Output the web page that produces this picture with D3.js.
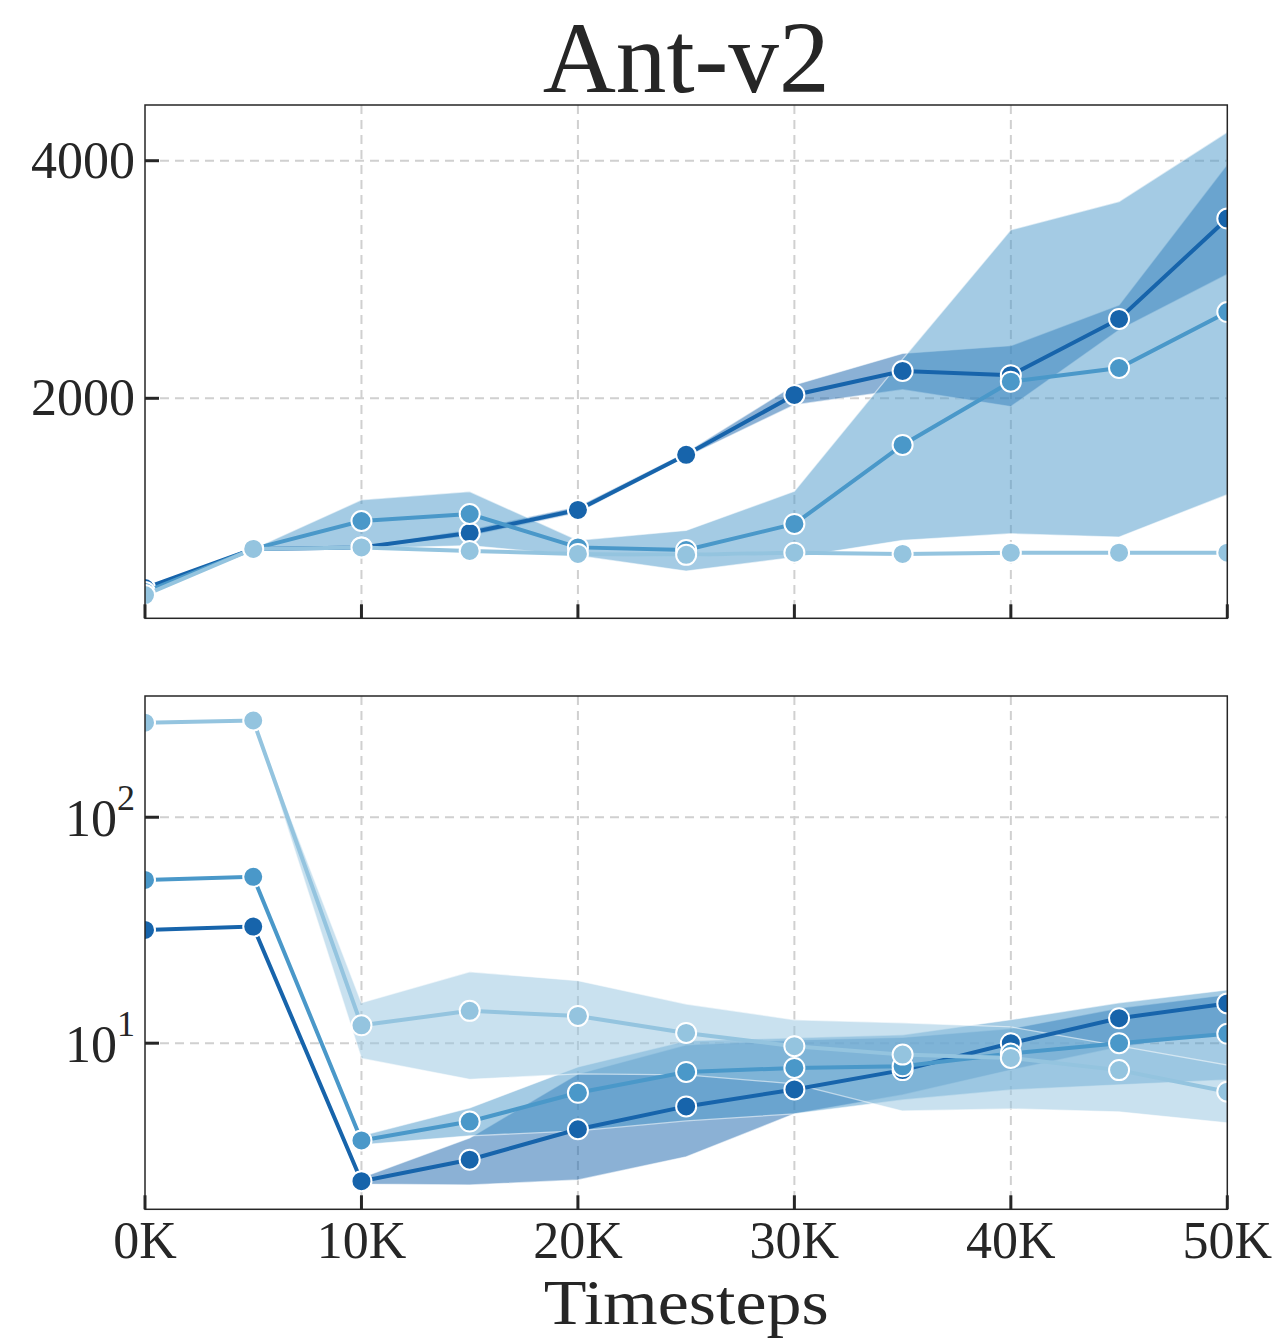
<!DOCTYPE html>
<html>
<head>
<meta charset="utf-8">
<script src="https://cdn.jsdelivr.net/npm/d3@7"></script>
<style>
  body { margin: 0; background: #fff; }
  text { font-family: "Liberation Serif", "DejaVu Serif", serif; fill: #262626; }
</style>
</head>
<body>
<div id="chart"></div>
<script>
// timesteps, every 5K
const steps = [0, 5000, 10000, 15000, 20000, 25000, 30000, 35000, 40000, 45000, 50000]
const xTicks = [0, 10000, 20000, 30000, 40000, 50000]
const xTickLabels = ['0K', '10K', '20K', '30K', '40K', '50K']
const seriesColors = ['#1764ab', '#4a98c9', '#94c4df']

// top panel: return (linear)
const retDark = [403, 732, 745, 867, 1060, 1524, 2028, 2230, 2195, 2668, 3513]
const retDarkLo = [403, 732, 735, 840, 1035, 1505, 1944, 2073, 1930, 2575, 3043]
const retDarkHi = [403, 732, 755, 895, 1090, 1545, 2112, 2378, 2443, 2785, 3970]
const retMid = [370, 732, 967, 1026, 745, 723, 942, 1607, 2140, 2255, 2726]
const retMidLo = [370, 732, 735, 760, 675, 546, 661, 804, 860, 832, 1189]
const retMidHi = [370, 732, 1145, 1215, 804, 888, 1217, 2330, 3418, 3656, 4241]
const retLight = [344, 732, 745, 715, 690, 682, 700, 690, 700, 700, 700]
const retLightLo = [344, 732, 738, 707, 683, 674, 693, 683, 693, 693, 693]
const retLightHi = [344, 732, 752, 723, 697, 690, 707, 697, 707, 707, 707]
const retTicks = [2000, 4000]
const retLimits = [148, 4469]

// bottom panel: log scale
const logDark = [31.7, 32.8, 2.45, 3.05, 4.16, 5.25, 6.24, 7.6, 10.0, 12.9, 15.0]
const logDarkLo = [31.7, 32.8, 2.38, 2.36, 2.48, 3.14, 4.87, 5.9, 7.6, 9.6, 11.2]
const logDarkHi = [31.7, 32.8, 2.54, 3.81, 7.31, 9.83, 10.34, 10.6, 11.6, 14.3, 16.4]
const logMid = [52.8, 54.5, 3.71, 4.5, 6.03, 7.46, 7.77, 7.9, 9.0, 10.0, 11.0]
const logMidLo = [52.8, 54.5, 3.55, 3.89, 4.09, 4.53, 4.87, 5.61, 6.21, 6.54, 6.88]
const logMidHi = [52.8, 54.5, 3.89, 5.17, 7.85, 10.24, 10.56, 10.9, 12.7, 15.1, 17.2]
const logLight = [262, 268, 12.0, 13.9, 13.2, 11.1, 9.7, 8.9, 8.6, 7.6, 6.1]
const logLightLo = [262, 268, 8.56, 6.92, 7.31, 7.24, 6.61, 5.01, 5.12, 4.97, 4.44]
const logLightHi = [262, 268, 15.1, 20.7, 18.9, 14.9, 12.7, 12.3, 11.8, 9.73, 8.0]
const logTicks = [10, 100]
const logLimits = [1.84, 344]

const width = 1281
const height = 1343
const left = 145
const right = 1227.3
const tickLen = 14

const svg = d3.select('#chart').append('svg')
  .attr('width', width).attr('height', height)

const x = d3.scaleLinear().domain([0, 50000]).range([left, right])

// titel
svg.append('text')
  .attr('x', (left + right) / 2).attr('y', 92)
  .attr('text-anchor', 'middle')
  .attr('font-size', 102)
  .attr('textLength', 287).attr('lengthAdjust', 'spacingAndGlyphs')
  .text('Ant-v2')

function makeSeries(means, los, his) {
  return steps.map((s, i) => ({ x: s, y: means[i], lo: los[i], hi: his[i] }))
}

function drawPanel(id, top, bottom, y, series, yTicks, tickText, showXLabels) {
  const g = svg.append('g')

  // clip zodat markers op de rand worden afgesneden
  svg.append('defs').append('clipPath').attr('id', id)
    .append('rect').attr('x', left).attr('y', top)
    .attr('width', right - left).attr('height', bottom - top)

  // grid
  const grid = g.append('g').attr('stroke', '#d0d0d0').attr('stroke-width', 2)
    .attr('stroke-dasharray', '9,6')
  grid.selectAll('.vx').data(xTicks.slice(1, -1)).enter().append('line')
    .attr('x1', d => x(d)).attr('x2', d => x(d))
    .attr('y1', top).attr('y2', bottom)
  grid.selectAll('.hy').data(yTicks).enter().append('line')
    .attr('x1', left).attr('x2', right)
    .attr('y1', d => y(d)).attr('y2', d => y(d))

  const plot = g.append('g').attr('clip-path', `url(#${id})`)

  // bands eerst (onder de lijnen)
  const area = d3.area().x(d => x(d.x)).y0(d => y(d.lo)).y1(d => y(d.hi))
  series.forEach(s => {
    plot.append('path').datum(s.data)
      .attr('d', area)
      .attr('fill', s.color).attr('fill-opacity', 0.5)
      .attr('stroke', '#fff').attr('stroke-opacity', 0.55).attr('stroke-width', 1.3)
  })

  // lijnen met markers
  const line = d3.line().x(d => x(d.x)).y(d => y(d.y))
  series.forEach(s => {
    plot.append('path').datum(s.data)
      .attr('d', line).attr('fill', 'none')
      .attr('stroke', s.color).attr('stroke-width', 4)
    plot.selectAll(null).data(s.data).enter().append('circle')
      .attr('cx', d => x(d.x)).attr('cy', d => y(d.y))
      .attr('r', 10)
      .attr('fill', s.color).attr('stroke', '#fff').attr('stroke-width', 2)
  })

  // frame
  g.append('rect').attr('x', left).attr('y', top)
    .attr('width', right - left).attr('height', bottom - top)
    .attr('fill', 'none').attr('stroke', '#262626').attr('stroke-width', 1.5)

  // ticks naar binnen
  const ticks = g.append('g').attr('stroke', '#262626').attr('stroke-width', 3)
  ticks.selectAll('.tx').data(xTicks).enter().append('line')
    .attr('x1', d => x(d)).attr('x2', d => x(d))
    .attr('y1', bottom).attr('y2', bottom - tickLen)
  ticks.selectAll('.ty').data(yTicks).enter().append('line')
    .attr('x1', left).attr('x2', left + tickLen)
    .attr('y1', d => y(d)).attr('y2', d => y(d))

  // y labels
  yTicks.forEach((t, i) => tickText(g, y(t), t, i))

  if (showXLabels) {
    g.selectAll('.xl').data(xTicks).enter().append('text')
      .attr('x', d => x(d)).attr('y', bottom + 49)
      .attr('text-anchor', 'middle').attr('font-size', 52)
      .text((d, i) => xTickLabels[i])
  }
}

// top panel
const yTop = d3.scaleLinear().domain(retLimits).range([618.3, 105])
drawPanel('clipTop', 105, 618.3, yTop, [
  { color: seriesColors[0], data: makeSeries(retDark, retDarkLo, retDarkHi) },
  { color: seriesColors[1], data: makeSeries(retMid, retMidLo, retMidHi) },
  { color: seriesColors[2], data: makeSeries(retLight, retLightLo, retLightHi) }
], retTicks, (g, yy, t) => {
  g.append('text').attr('x', 135).attr('y', yy + 17)
    .attr('text-anchor', 'end').attr('font-size', 52).text(t)
}, false)

// bottom panel
const yBot = d3.scaleLog().domain(logLimits).range([1209.3, 696])
drawPanel('clipBot', 696, 1209.3, yBot, [
  { color: seriesColors[0], data: makeSeries(logDark, logDarkLo, logDarkHi) },
  { color: seriesColors[1], data: makeSeries(logMid, logMidLo, logMidHi) },
  { color: seriesColors[2], data: makeSeries(logLight, logLightLo, logLightHi) }
], logTicks, (g, yy, t) => {
  const txt = g.append('text').attr('x', 135).attr('y', yy + 19)
    .attr('text-anchor', 'end').attr('font-size', 52)
  txt.append('tspan').text('10')
  txt.append('tspan').attr('font-size', 36).attr('dy', -26).text(Math.round(Math.log10(t)))
}, true)

// x label
svg.append('text')
  .attr('x', (left + right) / 2).attr('y', 1324)
  .attr('text-anchor', 'middle').attr('font-size', 64)
  .attr('textLength', 285).attr('lengthAdjust', 'spacingAndGlyphs')
  .text('Timesteps')
</script>
</body>
</html>
